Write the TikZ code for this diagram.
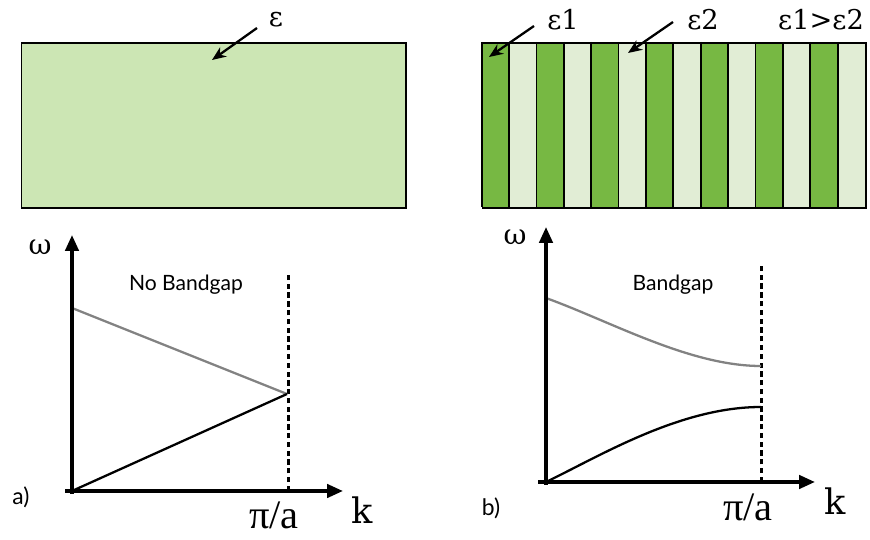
\documentclass[tikz,border=0pt]{standalone}
\usepackage{fontspec}
\setmainfont{DejaVu Serif}
\newfontfamily\labfont{Lato}
\newfontfamily\pifont{Liberation Serif}
\usetikzlibrary{arrows.meta}
\definecolor{bulkgreen}{RGB}{204,230,180}
\definecolor{darkstripe}{RGB}{119,184,67}
\definecolor{lightstripe}{RGB}{225,237,213}
\definecolor{bandgray}{RGB}{130,130,130}
\begin{document}
\begin{tikzpicture}[x=0.02cm,y=-0.02cm,
  slab/.style={draw=black,line width=1pt},
  eps/.style={font=\fontsize{15.5}{15.5}\selectfont,inner sep=0pt},
  ptr/.style={-{Stealth[length=8pt,width=6.5pt]},line width=1.3pt},
  axis/.style={-{Triangle[length=9pt,width=7.5pt]},line width=2pt},
  zone/.style={line width=1.3pt,dash pattern=on 3pt off 2pt},
  band/.style={line width=1.3pt},
  greek/.style={font=\fontsize{16}{16}\selectfont,inner sep=0pt},
  big/.style={font=\fontsize{20}{20}\selectfont,inner sep=0pt},
  pilab/.style={font=\pifont\fontsize{23}{23}\selectfont,inner sep=0pt},
  lab/.style={font=\labfont\fontsize{12}{12}\selectfont,inner sep=0pt}]
\useasboundingbox (0,0) rectangle (870,540);

% ---- top left: uniform slab
\node[slab,fill=bulkgreen,minimum width=384.3*0.02cm,minimum height=165*0.02cm,anchor=north west,inner sep=0pt] (bulk) at (20.7,42) {};
\node[eps] (e) at (276,20) {ε};
\coordinate (etip) at (212,60);
\draw[ptr] (257,28) -- (etip);

% ---- top right: layered slab
\foreach \i in {0,...,13}{
  \pgfmathsetmacro{\xa}{481.7+\i*27.38}
  \pgfmathsetmacro{\xb}{481.7+(\i+1)*27.38}
  \ifodd\i
    \fill[lightstripe] (\xa,42) rectangle (\xb,207);
  \else
    \fill[darkstripe] (\xa,42) rectangle (\xb,207);
  \fi
  \draw[line width=1pt] (\xa,42) -- (\xa,207);
}
\node[slab,minimum width=383.3*0.02cm,minimum height=165*0.02cm,anchor=north west,inner sep=0pt] (layers) at (481.7,42) {};
\node[eps] (e1) at (563,20) {ε1};
\node[eps] (e2) at (703,20) {ε2};
\node[eps] (e12) at (821,20) {ε1>ε2};
\coordinate (e1tip) at (489,57);
\coordinate (e2tip) at (628,53);
\draw[ptr] (534,26) -- (e1tip);
\draw[ptr] (673,22) -- (e2tip);

% ---- bottom left plot
\coordinate (oa) at (72,491);
\coordinate (ya) at (72,235);
\coordinate (xa) at (343,491);
\coordinate (za) at (288.5,491);
\coordinate (zta) at (288.5,275);
\coordinate (ca) at (287,394);
\coordinate (ga) at (72,308);
\draw[zone] (za) -- (zta);
\draw[band,bandgray] (ga) -- (ca);
\draw[band] (oa) -- (ca);
\draw[axis] (72,494) -- (ya);
\draw[axis] (65,491) -- (xa);
\node[greek] (wa) at (40,247) {ω};
\node[lab] (nb) at (186,285) {No Bandgap};
\node[lab,font=\labfont\fontsize{13}{13}\selectfont] (la) at (21,497) {a)};
\node[pilab] (pia) at (274,515) {π/a};
\node[big] (ka) at (362,510) {k};

% ---- bottom right plot
\coordinate (ob) at (546,482);
\coordinate (yb) at (546,227);
\coordinate (xb) at (815,482);
\coordinate (zb) at (761.5,482);
\coordinate (ztb) at (761.5,265);
\coordinate (gb) at (546,298);
\coordinate (gbe) at (761,366);
\coordinate (bbe) at (761,407);
\draw[zone] (zb) -- (ztb);
\draw[band,bandgray] (gb) .. controls (612,322) and (690,366) .. (gbe);
\draw[band] (ob) .. controls (600,456) and (680,407) .. (bbe);
\draw[axis] (546,485) -- (yb);
\draw[axis] (538,482) -- (xb);
\node[greek] (wb) at (515,237) {ω};
\node[lab] (bg) at (673,285) {Bandgap};
\node[lab,font=\labfont\fontsize{13}{13}\selectfont] (lb) at (491,508) {b)};
\node[pilab] (pib) at (748,507) {π/a};
\node[big] (kb) at (835,501) {k};
\end{tikzpicture}
\end{document}
